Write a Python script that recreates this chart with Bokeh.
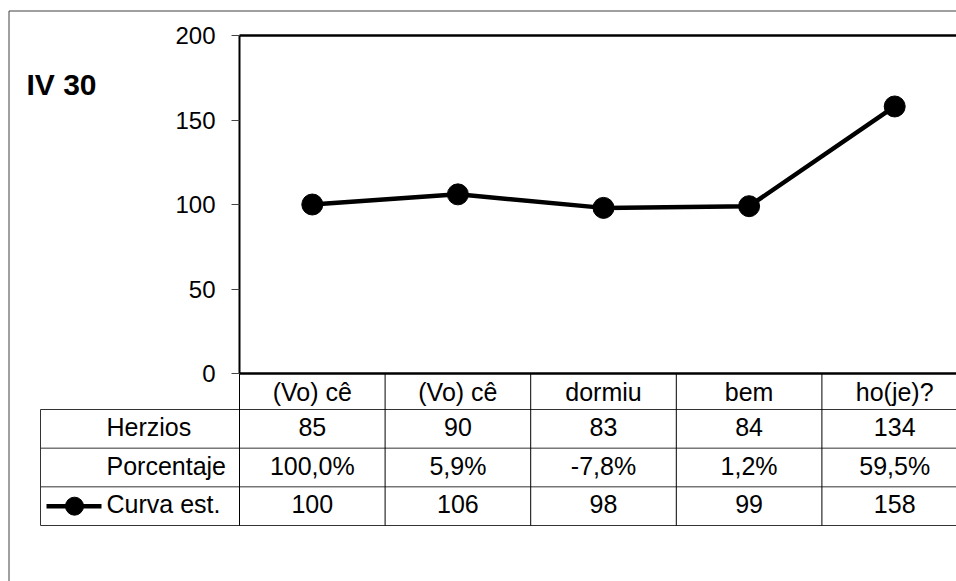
from bokeh.plotting import figure
from bokeh.models import Range1d, FixedTicker
from bokeh.core.properties import value
from bokeh.embed import file_html
from bokeh.resources import INLINE

# ---------------- data ----------------
categories = ["(Vo) cê", "(Vo) cê", "dormiu", "bem", "ho(je)?"]
herzios = [85, 90, 83, 84, 134]
porcentaje = ["100,0%", "5,9%", "-7,8%", "1,2%", "59,5%"]
curva_est = [100, 106, 98, 99, 158]
row_labels = ["Herzios", "Porcentaje", "Curva est."]
y_ticks = [0, 50, 100, 150, 200]
title_text = "IV 30"

# ---------------- layout constants ----------------
W, H = 956, 581
PX_X = 145.6          # px per category column
PX_Y = 1.69           # px per y unit
X0 = -0.5 - 239 / PX_X
X1 = X0 + W / PX_X
Y1 = 200 + 35 / PX_Y
Y0 = Y1 - H / PX_Y
CAT_H = 36 / PX_Y
ROW_H = 38.67 / PX_Y
HDR_LEFT = -0.5 - 199 / PX_X
HDR_TEXT = -0.5 - 133 / PX_X
TXT_UP = 2 / PX_Y
FONT = "Liberation Sans"
FS = "25px"

p = figure(width=W, height=H, output_backend="svg", toolbar_location=None,
           x_range=Range1d(X0, X1), y_range=Range1d(Y0, Y1),
           min_border=0, min_border_left=0, min_border_right=0,
           min_border_top=0, min_border_bottom=0)
p.outline_line_color = None
p.xgrid.visible = False
p.ygrid.visible = False
p.background_fill_color = "white"
p.border_fill_color = "white"

# y axis at the plot-area left edge
ya = p.yaxis[0]
ya.fixed_location = -0.5
ya.bounds = (0, 200)
ya.ticker = FixedTicker(ticks=y_ticks)
ya.axis_line_width = 2
ya.axis_line_color = "black"
ya.major_tick_out = 8
ya.major_tick_in = 0
ya.minor_tick_out = 0
ya.minor_tick_in = 0
ya.major_tick_line_color = "#444444"
ya.major_tick_line_width = 1
ya.major_label_text_font = FONT
ya.major_label_text_font_size = "24px"
ya.major_label_text_color = "black"
ya.major_label_standoff = 16

# x axis (category labels) along y = 0
xa = p.xaxis[0]
xa.fixed_location = 0
xa.bounds = (-0.5, 4.5)
xa.ticker = FixedTicker(ticks=list(range(len(categories))))
xa.major_label_overrides = {i: c for i, c in enumerate(categories)}
xa.axis_line_width = 2.5
xa.axis_line_color = "black"
xa.major_tick_out = 0
xa.major_tick_in = 0
xa.minor_tick_out = 0
xa.minor_tick_in = 0
xa.major_label_text_font = FONT
xa.major_label_text_font_size = FS
xa.major_label_text_color = "black"
xa.major_label_standoff = 4

# plot-area top border
p.segment(x0=[-0.5], y0=[200], x1=[4.5], y1=[200], line_color="black", line_width=2.5)

# outer chart border (left and top)
bx = X0 + 8.5 / PX_X
by = Y1 - 10.5 / PX_Y
p.segment(x0=[bx, bx], y0=[Y0, by], x1=[bx, X1], y1=[by, by],
          line_color="#404040", line_width=1)

# data table grid
n = len(categories)
bottom = -CAT_H - len(row_labels) * ROW_H
hy = [-CAT_H - k * ROW_H for k in range(len(row_labels) + 1)]
p.segment(x0=[HDR_LEFT] * len(hy), y0=hy, x1=[n - 0.5] * len(hy), y1=hy,
          line_color="#333333", line_width=1)
vx = [i - 0.5 for i in range(n + 1)]
p.segment(x0=vx, y0=[0] * len(vx), x1=vx, y1=[bottom] * len(vx),
          line_color="black", line_width=1)
p.segment(x0=[HDR_LEFT], y0=[-CAT_H], x1=[HDR_LEFT], y1=[bottom],
          line_color="#333333", line_width=1)

# table values
rows = [[str(v) for v in herzios], porcentaje, [str(v) for v in curva_est]]
for r, vals in enumerate(rows):
    yc = -CAT_H - (r + 0.5) * ROW_H + TXT_UP
    p.text(x=list(range(n)), y=[yc] * n, text=vals,
           text_font=value(FONT), text_font_size=FS, text_color="black",
           text_align="center", text_baseline="middle")
    p.text(x=[HDR_TEXT], y=[yc], text=[row_labels[r]],
           text_font=value(FONT), text_font_size=FS, text_color="black",
           text_align="left", text_baseline="middle")

# legend key in the table
ky = -CAT_H - 2.5 * ROW_H
p.line(x=[-0.5 - 193 / PX_X, -0.5 - 138 / PX_X], y=[ky, ky], line_color="black", line_width=4.5)
p.scatter(x=[-0.5 - 165 / PX_X], y=[ky], size=18, marker="circle", fill_color="black", line_color="black")

# title
p.text(x=[-0.5 - 213 / PX_X], y=[(373 - 83.5) / PX_Y], text=[title_text],
       text_font=value(FONT), text_font_size="30px", text_font_style="bold",
       text_color="black", text_align="left", text_baseline="middle")

# the series
xs = list(range(n))
p.line(x=xs, y=curva_est, line_color="black", line_width=4.5)
p.scatter(x=xs, y=curva_est, size=21, marker="circle", fill_color="black", line_color="black")

open("out.html", "w").write(file_html(p, INLINE))
